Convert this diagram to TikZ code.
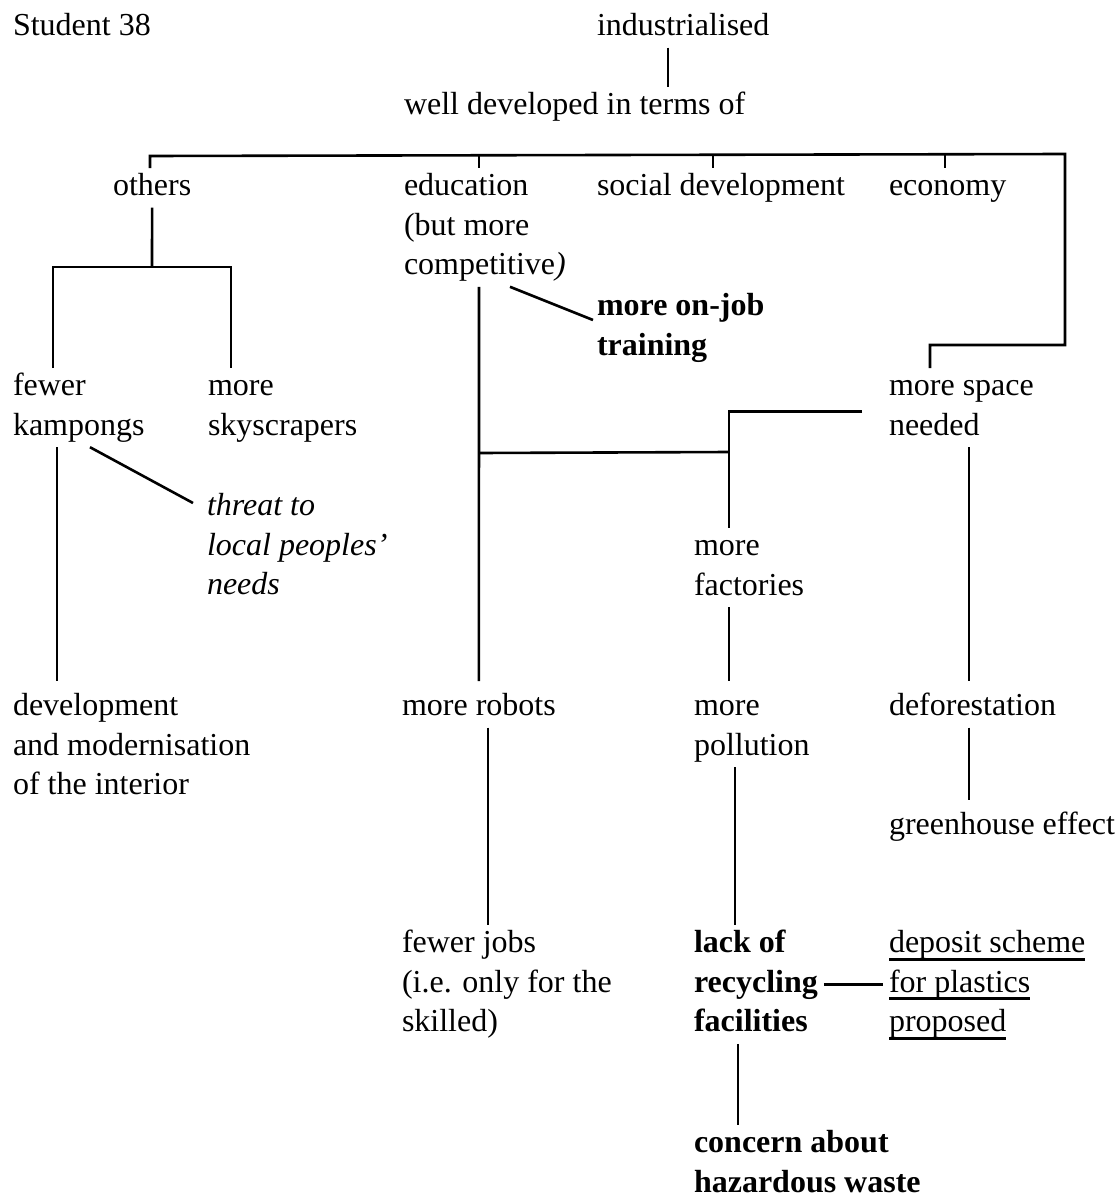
\documentclass[tikz,border=0pt]{standalone}
\usepackage{fontspec}
\setmainfont{Liberation Serif}
\usetikzlibrary{calc}
\newsavebox\ulbox
\newcommand\myul[1]{\sbox\ulbox{#1}\rlap{\rule[-7.8pt]{\wd\ulbox}{2.8pt}}\usebox\ulbox}
\begin{document}
\begin{tikzpicture}[x=1pt,y=-1pt,
  txt/.style={anchor=north west, inner sep=0pt, outer sep=0pt, align=left, font=\fontsize{32}{39.6}\selectfont},
  bld/.style={txt, font=\fontsize{32}{39.6}\selectfont\bfseries},
  itl/.style={txt, font=\fontsize{32}{39.6}\selectfont\itshape},
  link/.style={line width=2.6pt},
  gap/.style={shorten >=7pt}]
\useasboundingbox[fill=white] (0,0) rectangle (1117,1199);

% texts
\node[txt] (student) at (13,8) {\strut Student 38};
\node[txt] (ind) at (597,8) {\strut industrialised};
\node[txt] (well) at (404,87) {\strut well developed in terms of};
\node[txt] (others) at (113,168) {\strut others};
\node[txt] (edu) at (404,168) {\strut education\\(but more\\competitive\textit{)}\strut};
\node[txt] (social) at (597,168) {\strut social development};
\node[txt] (economy) at (889,168) {\strut economy};
\node[bld] (onjob) at (597,288) {\strut more on-job\\training\strut};
\node[txt] (fewer) at (13,368) {\strut fewer\\kampongs\strut};
\node[txt] (sky) at (208,368) {\strut more\\skyscrapers\strut};
\node[txt] (space) at (889,368) {\strut more space\\needed\strut};
\node[itl] (threat) at (207,488) {\strut threat to\\local peoples'\\needs\strut};
\node[txt] (fact) at (694,528) {\strut more\\factories\strut};
\node[txt] (dev) at (13,688) {\strut development\\and modernisation\\of the interior\strut};
\node[txt] (robots) at (402,688) {\strut more robots};
\node[txt] (poll) at (694,688) {\strut more\\pollution\strut};
\node[txt] (defor) at (889,688) {\strut deforestation};
\node[txt] (green) at (889,807) {\strut greenhouse effect};
\node[txt] (jobs) at (402,925) {\strut fewer jobs\\(i.e. only for the\\skilled)\strut};
\node[bld] (lack) at (694,925) {\strut lack of\\recycling\\facilities\strut};
\node[txt] (dep) at (889,925) {\strut\myul{deposit scheme}\\\myul{for plastics}\\\myul{proposed}\strut};
\node[bld] (concern) at (694,1125) {\strut concern about\\hazardous waste\strut};

% helper coordinates
\coordinate (barL) at (150,156);
\coordinate (barR) at (1065,154);
\coordinate (barTurn) at (1065,345);
\coordinate (tEdu) at (479,155);
\coordinate (tSoc) at (713,155);
\coordinate (tEco) at (945,154);
\coordinate (split) at (152,267);
\coordinate (splitL) at (53,267);
\coordinate (splitR) at (231,267);
\coordinate (kx) at (57,0);
\coordinate (ex) at (479,0);
\coordinate (ej) at (479,453);
\coordinate (fj) at (729,452);
\coordinate (rx) at (488,0);
\coordinate (px) at (735,0);
\coordinate (cx) at (738,0);
\coordinate (sx) at (969,0);
\coordinate (ix) at (668,0);

% connectors
\draw[link] (ix |- ind.south) -- (ix |- well.north);
\draw[link] (barL |- others.north) -- (barL) -- (barR) -- (barTurn) -| (930,0 |- space.north);
\draw[link] (tEdu) -- (tEdu |- edu.north);
\draw[link] (tSoc) -- (tSoc |- social.north);
\draw[link] (tEco) -- (tEco |- economy.north);
\draw[link] (others.south) -- (split);
\draw[link] (splitL |- fewer.north) -- (splitL) -- (splitR) -- (splitR |- sky.north);
\draw[link,gap] (kx |- fewer.south) -- (kx |- dev.north);
\draw[link] (90,0 |- fewer.south) -- ([shift={(-14pt,-15pt)}]threat.north west);
\draw[link,gap] (ex |- edu.south) -- (robots.north);
\draw[link] (510,0 |- edu.south) -- ([shift={(-4pt,-32pt)}]onjob.north west);
\draw[link] (ej) -- (fj);
\draw[link] ([xshift=-27pt,yshift=-4pt]space.west) -| (fj |- fact.north);
\draw[link,gap] (fj |- fact.south) -- (fj |- poll.north);
\draw[link] (rx |- robots.south) -- (rx |- jobs.north);
\draw[link] (px |- poll.south) -- (px |- lack.north);
\draw[link] (cx |- lack.south) -- (cx |- concern.north);
\draw[link,gap] (sx |- space.south) -- (sx |- defor.north);
\draw[link,gap] (sx |- defor.south) -- (sx |- green.north);
\draw[link] ([xshift=6pt]lack.east) -- ([xshift=-6pt]dep.west);
\end{tikzpicture}
\end{document}
